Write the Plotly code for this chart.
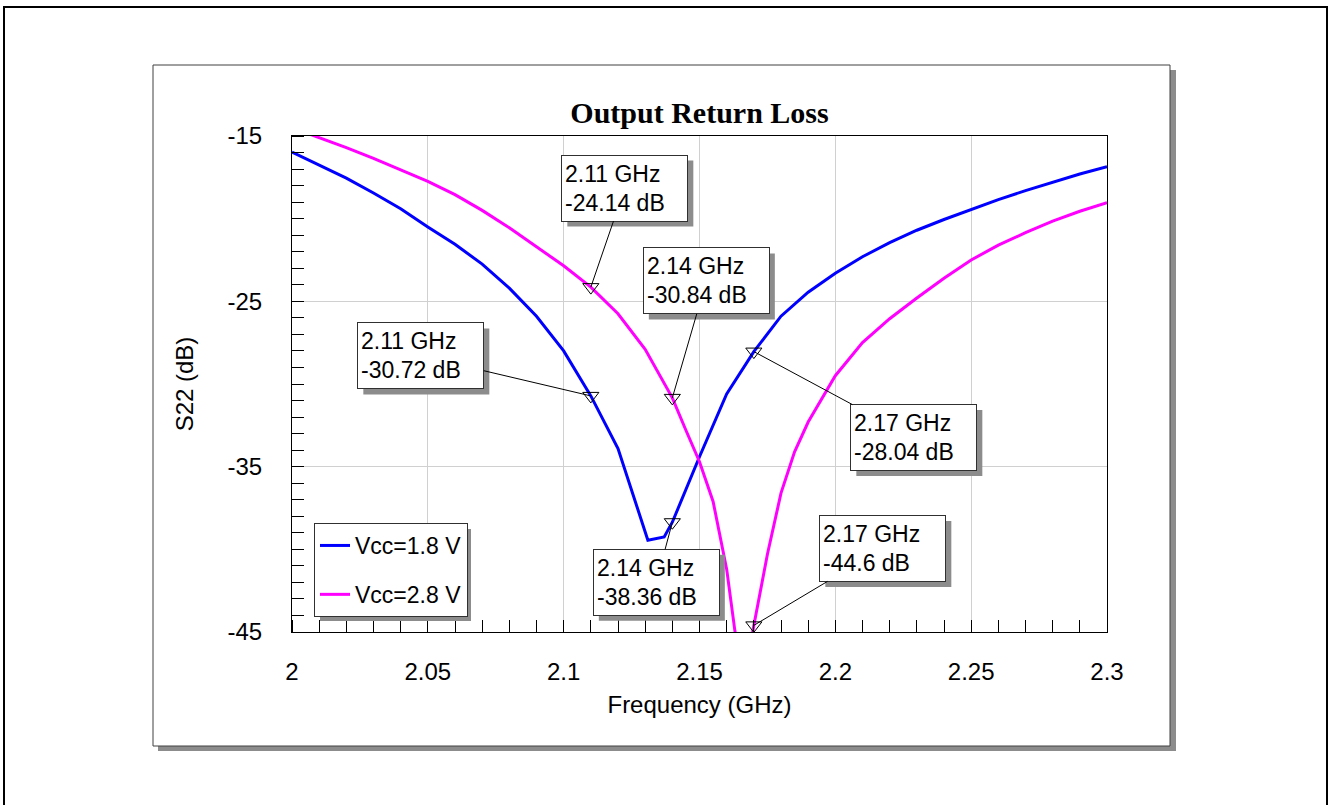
import plotly.graph_objects as go

# ---------------- data ----------------
freq_18 = [2.000, 2.010, 2.020, 2.030, 2.040, 2.050, 2.060, 2.070, 2.080, 2.090,
           2.100, 2.110, 2.120, 2.131, 2.137, 2.140, 2.150, 2.160, 2.170, 2.180,
           2.190, 2.200, 2.210, 2.220, 2.230, 2.240, 2.250, 2.260, 2.270, 2.280,
           2.290, 2.300]
s22_18 = [-15.97, -16.75, -17.55, -18.45, -19.4, -20.5, -21.55, -22.75, -24.2, -25.9,
          -28.0, -30.72, -33.9, -39.45, -39.25, -38.36, -34.4, -30.6, -28.04, -25.9,
          -24.45, -23.3, -22.3, -21.45, -20.7, -20.05, -19.45, -18.85, -18.3, -17.8,
          -17.3, -16.86]

freq_28 = [2.000, 2.010, 2.020, 2.030, 2.040, 2.050, 2.060, 2.070, 2.080, 2.090,
           2.100, 2.110, 2.120, 2.130, 2.140, 2.145, 2.150, 2.155, 2.160, 2.163,
           2.1665, 2.170, 2.175, 2.180, 2.185, 2.190, 2.200, 2.210, 2.220, 2.230,
           2.240, 2.250, 2.260, 2.270, 2.280, 2.290, 2.300]
s22_28 = [-14.5, -15.1, -15.7, -16.35, -17.05, -17.75, -18.55, -19.5, -20.55, -21.7,
          -22.85, -24.14, -25.75, -27.9, -30.84, -32.8, -34.7, -37.1, -41.2, -44.9,
          -48.0, -44.6, -40.3, -36.6, -34.1, -32.3, -29.5, -27.5, -26.05, -24.8,
          -23.6, -22.5, -21.6, -20.85, -20.15, -19.55, -19.03]

series_names = ["Vcc=1.8 V", "Vcc=2.8 V"]

marker_freq = [2.11, 2.14, 2.11, 2.17, 2.14, 2.17]
marker_db = [-24.14, -30.84, -30.72, -28.04, -38.36, -44.6]
# label-box offsets (pixels) from each marker
label_ax = [34, 34, -170, 160, -16, 129]
label_ay = [-99, -117, -40, 86, 60, -77]

x_tickvals = [2.0, 2.05, 2.1, 2.15, 2.2, 2.25, 2.3]
x_ticktext = ["2", "2.05", "2.1", "2.15", "2.2", "2.25", "2.3"]
y_tickvals = [-15, -25, -35, -45]
y_ticktext = ["-15", "-25", "-35", "-45"]

# ---------------- layout geometry ----------------
W, H = 1331, 805
L, R, T, B = 292, 1107, 136, 632
BOX_W, BOX_H = 125, 65


def px(x):
    return (x - L) / (R - L)


def py(y):
    return (B - y) / (B - T)


ARIAL = "Liberation Sans, Arial, sans-serif"
SHADOW = "#8c8c8c"

fig = go.Figure()
fig.add_trace(go.Scatter(x=freq_18, y=s22_18, mode="lines", name=series_names[0],
                         legendgroup="a", line=dict(color="#0000ff", width=3)))
fig.add_trace(go.Scatter(x=freq_28, y=s22_28, mode="lines", name=series_names[1],
                         legendgroup="b", line=dict(color="#ff00ff", width=3)))
fig.add_trace(go.Scatter(x=marker_freq, y=marker_db, mode="markers", showlegend=False,
                         cliponaxis=False,
                         marker=dict(symbol="triangle-down-open", size=14, color="black",
                                     line=dict(width=1, color="black"))))

shapes = [
    # outer frame
    dict(type="rect", xref="paper", yref="paper", x0=px(4), x1=px(1327), y0=py(812), y1=py(7),
         line=dict(color="black", width=2), fillcolor="white", layer="below"),
    # panel shadow
    dict(type="rect", xref="paper", yref="paper", x0=px(158), x1=px(1176), y0=py(751), y1=py(70),
         line=dict(width=0), fillcolor=SHADOW, layer="below"),
    # panel
    dict(type="rect", xref="paper", yref="paper", x0=px(153), x1=px(1170), y0=py(746), y1=py(65),
         line=dict(color="#404040", width=1), fillcolor="white", layer="below"),
    # legend shadow
    dict(type="rect", xref="paper", yref="paper", x0=px(320), x1=px(471), y0=py(621), y1=py(529),
         line=dict(width=0), fillcolor=SHADOW, layer="above"),
]

annotations = []
for f, v, ax, ay in zip(marker_freq, marker_db, label_ax, label_ay):
    # drop shadow of the label box, anchored to the marked point in pixels
    shapes.append(dict(type="rect", xref="x", yref="y", xsizemode="pixel", ysizemode="pixel",
                       xanchor=f, yanchor=v,
                       x0=ax - BOX_W / 2 + 5, x1=ax + BOX_W / 2 + 6,
                       y0=-ay - BOX_H / 2 - 6, y1=-ay + BOX_H / 2 - 5,
                       line=dict(width=0), fillcolor=SHADOW, layer="above"))
    annotations.append(dict(x=f, y=v, xref="x", yref="y", ax=ax, ay=ay,
                            text=f"{f:.2f} GHz<br>{v:g} dB", align="left",
                            width=BOX_W - 6, height=BOX_H - 6, borderpad=3, borderwidth=1,
                            showarrow=True, arrowhead=0, arrowwidth=1, standoff=0,
                            font=dict(family=ARIAL, size=23, color="black"),
                            bgcolor="white", bordercolor="#303030", arrowcolor="black"))

fig.update_layout(
    width=W, height=H,
    margin=dict(l=L, r=W - R, t=T, b=H - B, pad=0),
    paper_bgcolor="white", plot_bgcolor="rgba(0,0,0,0)",
    hovermode=False,
    shapes=shapes, annotations=annotations,
    title=dict(text="<b>Output Return Loss</b>", x=0.5, xref="paper", xanchor="center",
               y=1 - 112 / H, yref="container", yanchor="middle",
               font=dict(family="Liberation Serif, Times New Roman, serif", size=30, color="black")),
    legend=dict(x=px(314), y=py(523), xanchor="left", yanchor="top", bgcolor="white",
                bordercolor="#303030", borderwidth=1, tracegroupgap=16,
                traceorder="grouped", font=dict(family=ARIAL, size=23, color="black")),
    font=dict(family=ARIAL, color="black"),
)

fig.update_xaxes(range=[2.0, 2.3], tickmode="array", tickvals=x_tickvals, ticktext=x_ticktext,
                 showgrid=True, gridcolor="#d0d0d0", gridwidth=1, zeroline=False,
                 showline=True, linecolor="black", linewidth=1, mirror=True,
                 ticks="outside", ticklen=18, tickcolor="rgba(0,0,0,0)",
                 tickfont=dict(family=ARIAL, size=24, color="black"),
                 minor=dict(tick0=2.0, dtick=0.01, ticks="inside", ticklen=12,
                            tickcolor="black", tickwidth=1, showgrid=False),
                 title=dict(text="Frequency (GHz)", standoff=12,
                            font=dict(family=ARIAL, size=24, color="black")))
fig.update_yaxes(range=[-45, -15], tickmode="array", tickvals=y_tickvals, ticktext=y_ticktext,
                 showgrid=True, gridcolor="#d0d0d0", gridwidth=1, zeroline=False,
                 showline=True, linecolor="black", linewidth=1, mirror=True,
                 ticks="outside", ticklen=24, tickcolor="rgba(0,0,0,0)",
                 tickfont=dict(family=ARIAL, size=24, color="black"),
                 minor=dict(tick0=-45, dtick=1, ticks="inside", ticklen=12,
                            tickcolor="black", tickwidth=1, showgrid=False),
                 title=dict(text="S22 (dB)", standoff=27,
                            font=dict(family=ARIAL, size=24, color="black")))

fig.write_html("out.html",
               config={"displayModeBar": False},
               post_script="document.body.style.margin='0px';document.body.style.overflow='hidden';")
